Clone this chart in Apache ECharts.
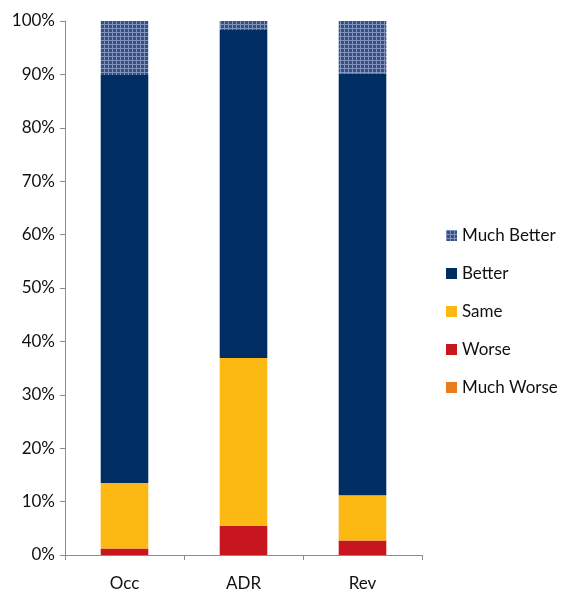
<!DOCTYPE html>
<html><head><meta charset="utf-8">
<script src="https://cdn.jsdelivr.net/npm/echarts@6/dist/echarts.min.js"></script>
<style>html,body{margin:0;padding:0;background:#fff}#c{width:563px;height:592px}</style>
</head><body><div id="c"></div>
<script>
var categories = ['Occ', 'ADR', 'Rev'];
var muchWorse = [0, 0, 0];
var worse = [1.2, 5.5, 2.7];
var same = [12.3, 31.4, 8.5];
var better = [76.4, 61.4, 78.9];
var muchBetter = [10.1, 1.7, 9.9];
var yTicks = [0, 10, 20, 30, 40, 50, 60, 70, 80, 90, 100];

var tile = document.createElement('canvas');
tile.width = 4; tile.height = 4;
var tc = tile.getContext('2d');
tc.fillStyle = '#334f86'; tc.fillRect(0, 0, 4, 4);
tc.fillStyle = '#8294bb'; tc.fillRect(0, 0, 4, 1); tc.fillRect(0, 0, 1, 4);
var pattern = {image: tile, repeat: 'repeat'};

var font = 'Lato, "Open Sans", sans-serif';
var chart = echarts.init(document.getElementById('c'));
function s(name, data, color) {
  return {name: name, type: 'bar', stack: 'a', data: data, barWidth: '40%',
    itemStyle: {color: color}};
}
chart.setOption({
  animation: false,
  grid: {left: 65, top: 21, width: 357, height: 534},
  legend: {
    orient: 'vertical', left: 441, top: 221, itemWidth: 11, itemHeight: 11,
    itemGap: 19, icon: 'rect',
    textStyle: {fontFamily: font, fontSize: 17, color: '#111', lineHeight: 19},
    data: [
      {name: 'Much Better', itemStyle: {color: pattern}},
      'Better', 'Same', 'Worse', 'Much Worse'
    ]
  },
  xAxis: {
    type: 'category', data: categories,
    axisLine: {lineStyle: {color: '#8c8c8c'}},
    axisTick: {show: true, interval: 0, length: 5, lineStyle: {color: '#8c8c8c'}},
    axisLabel: {fontFamily: font, fontSize: 17, color: '#111', margin: 20}
  },
  yAxis: {
    type: 'value', min: 0, max: 100, interval: 10,
    axisLine: {show: true, lineStyle: {color: '#8c8c8c'}},
    axisTick: {show: true, length: 5, lineStyle: {color: '#8c8c8c'}},
    splitLine: {show: false},
    axisLabel: {fontFamily: font, fontSize: 17, color: '#111', margin: 10,
      formatter: function (v) { return yTicks.indexOf(v) >= 0 ? v + '%' : ''; }}
  },
  series: [
    s('Much Worse', muchWorse, '#e87d1e'),
    s('Worse', worse, '#c8161e'),
    s('Same', same, '#fdb913'),
    s('Better', better, '#002d62'),
    s('Much Better', muchBetter, pattern)
  ]
});
</script></body></html>
